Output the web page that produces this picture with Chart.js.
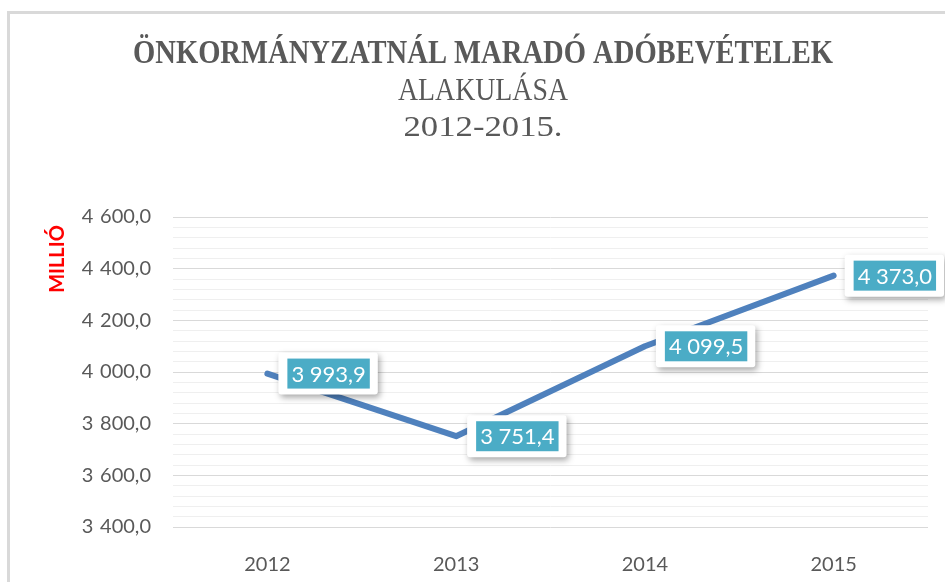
<!DOCTYPE html>
<html lang="hu">
<head>
<meta charset="utf-8">
<title>Önkormányzatnál maradó adóbevételek</title>
<script src="https://cdn.jsdelivr.net/npm/chart.js@4.4.1/dist/chart.umd.min.js"></script>
<style>
  html, body { margin: 0; padding: 0; background: #fff; }
  #wrap { position: relative; width: 945px; height: 582px; }
  #frame {
    position: absolute; left: 7px; top: 11px; right: 0; bottom: 0;
    border-left: 3px solid #d9d9d9; border-top: 3px solid #d9d9d9;
    pointer-events: none;
  }
  canvas { position: absolute; left: 0; top: 0; }
</style>
</head>
<body>
<div id="wrap">
  <canvas id="chart" width="945" height="582"></canvas>
  <div id="frame"></div>
</div>
<script>
// data
const years = ["2012", "2013", "2014", "2015"];
const revenue = [3993.9, 3751.4, 4099.5, 4373.0];
const yMin = 3400;
const yMax = 4600;
const yLabelStep = 200;
const yGridStep = 40;

const titleLines = ["ÖNKORMÁNYZATNÁL MARADÓ ADÓBEVÉTELEK", "ALAKULÁSA", "2012-2015."];
const axisTitle = "MILLIÓ";

// "4 373,0" style: space thousands, comma decimal
function fmt(v, sep) {
  const parts = v.toFixed(1).split(".");
  return parts[0].replace(/\B(?=(\d{3})+(?!\d))/g, sep || " ") + "," + parts[1];
}

// title drawn by hand so the condensed serif look can be matched
const titlePlugin = {
  id: "titleLines",
  afterDraw(chart) {
    const ctx = chart.ctx;
    const cx = 483;
    const specs = [
      { font: "bold 34px 'Liberation Serif'", y: 54, width: 700 },
      { font: "32px 'Liberation Serif'", y: 92, width: 170 },
      { font: "30px 'Liberation Serif'", y: 128, width: 159 },
    ];
    ctx.save();
    ctx.fillStyle = "#595959";
    ctx.textAlign = "center";
    ctx.textBaseline = "middle";
    specs.forEach((s, i) => {
      ctx.font = s.font;
      const w = ctx.measureText(titleLines[i]).width;
      ctx.save();
      ctx.translate(cx, s.y);
      ctx.scale(s.width / w, 1);
      ctx.fillText(titleLines[i], 0, 0);
      ctx.restore();
    });

    // red axis caption, sits near the top of the value axis
    const area = chart.chartArea;
    ctx.translate(area.left - 115, area.top + 42);
    ctx.rotate(-Math.PI / 2);
    ctx.fillStyle = "#ff0000";
    ctx.font = "bold 20px Lato";
    ctx.fillText(axisTitle, 0, 0);
    ctx.restore();
  },
};

// callout boxes to the right of each point
const calloutPlugin = {
  id: "callouts",
  afterDatasetsDraw(chart) {
    const ctx = chart.ctx;
    const meta = chart.getDatasetMeta(0);
    ctx.save();
    ctx.font = "22px Lato";
    ctx.textBaseline = "middle";
    ctx.textAlign = "center";
    meta.data.forEach((pt, i) => {
      const text = fmt(revenue[i]);
      const tw = ctx.measureText(text).width;
      const innerW = tw + 8;
      const innerH = 30;
      const boxW = innerW + 17;
      const boxH = innerH + 12;
      const bx = pt.x + 11;
      const by = pt.y - boxH / 2;

      ctx.save();
      ctx.shadowColor = "rgba(0,0,0,0.35)";
      ctx.shadowBlur = 6;
      ctx.shadowOffsetX = 2;
      ctx.shadowOffsetY = 3;
      ctx.fillStyle = "#ffffff";
      ctx.beginPath();
      ctx.roundRect(bx, by, boxW, boxH, 3);
      ctx.fill();
      ctx.restore();

      ctx.fillStyle = "#4bacc6";
      ctx.fillRect(bx + 9, by + 6, innerW, innerH);
      ctx.fillStyle = "#ffffff";
      ctx.fillText(text, bx + 9 + innerW / 2, by + 6 + innerH / 2 + 1);
    });
    ctx.restore();
  },
};

const chart = new Chart(document.getElementById("chart"), {
  type: "line",
  data: {
    labels: years,
    datasets: [
      {
        data: revenue,
        borderColor: "#4f81bd",
        borderWidth: 6,
        borderCapStyle: "round",
        borderJoinStyle: "round",
        pointRadius: 0,
        pointHoverRadius: 0,
        tension: 0,
        fill: false,
      },
    ],
  },
  options: {
    responsive: false,
    animation: false,
    devicePixelRatio: 1,
    layout: { padding: { top: 217, right: 17, bottom: 0, left: 0 } },
    plugins: {
      legend: { display: false },
      title: { display: false },
      tooltip: { enabled: false },
    },
    scales: {
      x: {
        offset: true,
        grid: { display: false },
        border: { display: false },
        ticks: {
          color: "#595959",
          font: { family: "Lato", size: 20 },
          padding: 18,
        },
        afterFit(scale) {
          scale.height = 55;
        },
      },
      y: {
        min: yMin,
        max: yMax,
        border: { display: false },
        grid: {
          drawTicks: false,
          lineWidth: 1,
          color: (c) => (c.tick.value % yLabelStep === 0 ? "#d9d9d9" : "#efefef"),
        },
        ticks: {
          stepSize: yGridStep,
          autoSkip: false,
          padding: 22,
          color: "#595959",
          font: { family: "Lato", size: 20 },
          callback: (v) => (v % yLabelStep === 0 ? fmt(v, "\u2004") : ""),
        },
        afterFit(scale) {
          scale.width = 173;
        },
      },
    },
  },
  plugins: [titlePlugin, calloutPlugin],
});
</script>
</body>
</html>
